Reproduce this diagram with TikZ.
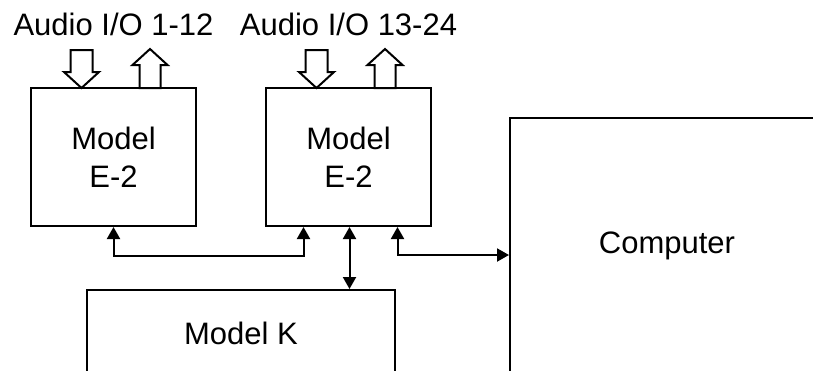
\documentclass[tikz,border=0pt]{standalone}
\usepackage{fontspec}
\setmainfont{Liberation Sans}
\usetikzlibrary{arrows.meta,positioning,calc}

\begin{document}
\begin{tikzpicture}[x=1pt,y=-1pt,line width=2pt,>={Triangle[length=12pt,width=13pt]},
  box/.style={draw,minimum width=165pt,minimum height=138pt,align=center,font=\fontsize{31}{38}\selectfont},
  lbl/.style={font=\fontsize{31}{38}\selectfont,anchor=base,inner sep=0pt},
  ioarrow/.style={draw,fill=white,line join=miter}]
  \useasboundingbox (0,0) rectangle (813,370);
  \clip (0,0) rectangle (813,370);
  \node[box] (e2a) at (113.5,157) {Model\\E-2};
  \node[box,right=68pt of e2a] (e2b) {Model\\E-2};
  \node[box,minimum width=308pt,minimum height=86pt,anchor=north] (modk) at (241,289) {Model K};
  \node[box,minimum width=314pt,minimum height=256pt] (comp) at (667,246) {Computer};
  \node[lbl] (ioa) at ([yshift=52pt]e2a.north) {Audio I/O 1-12};
  \node[lbl] (iob) at ([yshift=52pt]e2b.north) {Audio I/O 13-24};
  % in / out block arrows
  \foreach \b in {e2a,e2b} {
    \draw[ioarrow] ($(\b.north)+(-32,1)$) -- ++(-17.5,-16) -- ++(6.5,0) -- ++(0,-22)
      -- ++(22,0) -- ++(0,22) -- ++(6.5,0) -- cycle;
    \draw[ioarrow] ($(\b.north)+(26,1)$) -- ++(0,-23) -- ++(-7,0) -- ++(17.5,-16)
      -- ++(17.5,16) -- ++(-7,0) -- ++(0,23) -- cycle;
  }
  \draw[<->] (e2a.south) -- ++(0,29) -| ([xshift=-45pt]e2b.south);
  \coordinate (tapb) at ([xshift=1pt]e2b.south);
  \draw[<->] (tapb) -- (tapb |- modk.north);
  \draw[<->] ([xshift=49pt]e2b.south) |- ([yshift=-9pt]comp.west);
\end{tikzpicture}
\end{document}
